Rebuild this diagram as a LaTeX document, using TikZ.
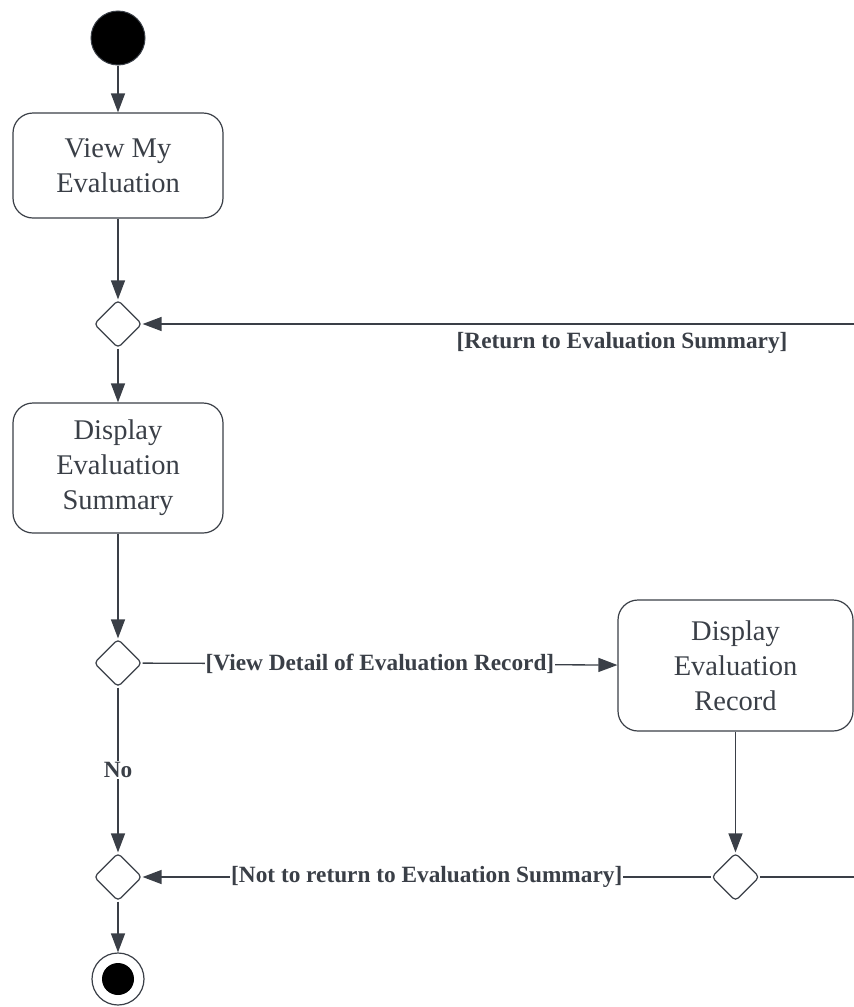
\documentclass[tikz,border=0pt]{standalone}
\usepackage{fontspec}
\setmainfont{Liberation Serif}
\usetikzlibrary{shapes.geometric,arrows.meta}
\definecolor{ink}{HTML}{3A3F47}
\begin{document}
\begin{tikzpicture}[x=1pt,y=-1pt,
  flow/.style={draw=ink, line width=1.3pt, -{Triangle[length=19pt,width=14pt]}},
  plain/.style={draw=ink, line width=1.3pt},
  action/.style={draw=ink, line width=1.2pt, rounded corners=20pt, align=center,
    text=ink, font=\fontsize{28.5}{35}\selectfont, inner sep=0pt},
  decision/.style={draw=ink, line width=1.2pt, diamond, minimum width=48pt,
    minimum height=48pt, inner sep=0pt, rounded corners=4pt, fill=white},
  guard/.style={fill=white, text=ink, font=\bfseries\fontsize{23.3}{27}\selectfont, inner sep=1pt},
]
\useasboundingbox (0,0) rectangle (854,1007);

% initial and final nodes
\node[circle, fill=black, draw=ink, line width=1pt, minimum size=54pt, inner sep=0pt] (start) at (118,38) {};
\node[circle, draw=ink, line width=1.2pt, fill=white, minimum size=52pt, inner sep=0pt] (final) at (118,979) {};
\node[circle, fill=black, minimum size=32pt, inner sep=0pt] (finaldot) at (final.center) {};

% actions
\node[action, minimum width=210pt, minimum height=105pt] (view) at (118,165.5) {View My\\Evaluation};
\node[action, minimum width=210pt, minimum height=130pt] (summary) at (118,468) {Display\\Evaluation\\Summary};
\node[action, minimum width=235pt, minimum height=131pt] (record) at (735.5,665.5) {Display\\Evaluation\\Record};

% decisions and merges
\node[decision] (d1) at (118,324) {};
\node[decision] (d2) at (118,663) {};
\node[decision] (d3) at (118,877) {};
\node[decision] (d4) at (735.5,877) {};

% loop ends leaving the page on the right
\coordinate (loopout) at (854,877);
\coordinate (loopin) at (854,324);

% flows
\draw[flow] (start) -- (view);
\draw[flow] (view) -- (d1);
\draw[flow] (d1) -- (summary);
\draw[flow] (summary) -- (d2);
\draw[flow] (d2) -- node[guard] {[View Detail of Evaluation Record]} (record);
\draw[flow] (d2) -- node[guard] {No} (d3);
\draw[flow] (record) -- (d4);
\draw[flow] (d4) -- node[guard] {[Not to return to Evaluation Summary]} (d3);
\draw[plain] (d4) -- (loopout);
\draw[flow] (loopin) -- node[guard, below=7pt, pos=0.326] {[Return to Evaluation Summary]} (d1);
\draw[flow] (d3) -- (final);
\end{tikzpicture}
\end{document}
